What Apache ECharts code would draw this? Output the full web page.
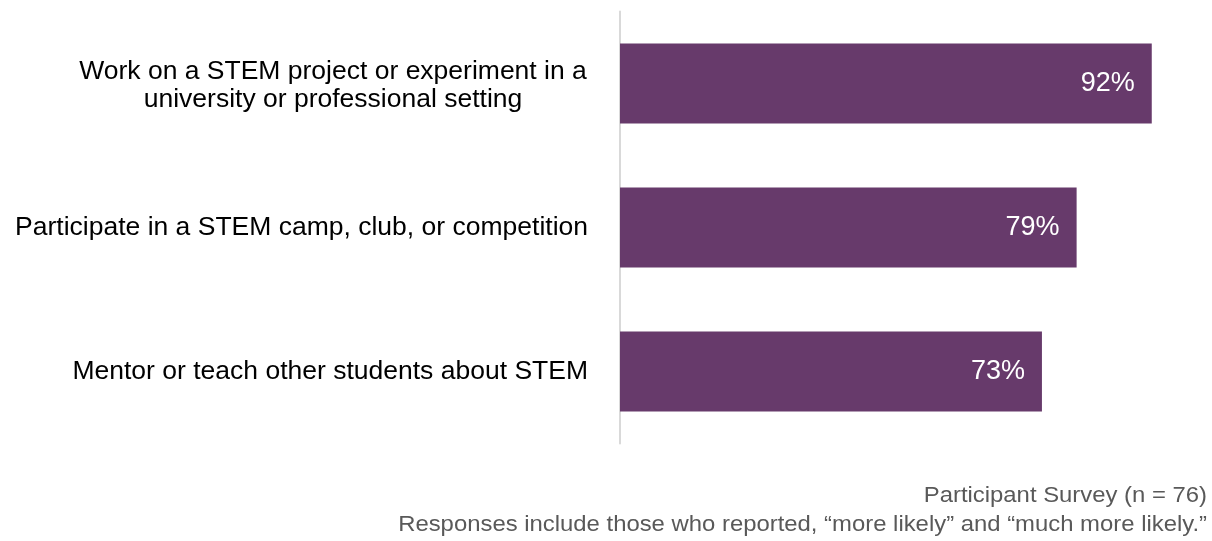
<!DOCTYPE html>
<html>
<head>
<meta charset="utf-8">
<script src="https://cdn.jsdelivr.net/npm/echarts@6/dist/echarts.min.js"></script>
<style>
html,body{margin:0;padding:0;background:#fff;}
#chart{width:1212px;height:541px;}
</style>
</head>
<body>
<div id="chart"></div>
<script>
const categories = [
  "Work on a STEM project or experiment in a\nuniversity or professional setting",
  "Participate in a STEM camp, club, or competition",
  "Mentor or teach other students about STEM"
];
const values = [92, 79, 73];
const footnotes = [
  "Participant Survey (n = 76)",
  "Responses include those who reported, \u201cmore likely\u201d and \u201cmuch more likely.\u201d"
];

const chart = echarts.init(document.getElementById('chart'));
const font = '"Liberation Sans", Arial, sans-serif';
chart.setOption({
  animation: false,
  grid: { left: 620, right: 14, top: 11.5, bottom: 97.5 },
  xAxis: {
    type: 'value', min: 0, max: 100, show: false
  },
  yAxis: {
    type: 'category', data: categories, inverse: true,
    axisLine: { show: true, lineStyle: { color: '#d9d9d9', width: 2 } },
    axisTick: { show: false },
    axisLabel: {
      margin: 32,
      fontFamily: font, fontSize: 26.5, color: '#000', lineHeight: 28,
      formatter: function (v) {
        if (v.indexOf('\n') >= 0) {
          return v.split('\n').map(s => '{c|' + s + '}').join('\n');
        }
        return v;
      },
      rich: {
        c: { width: 510, align: 'center', fontFamily: font, fontSize: 26.5, color: '#000', lineHeight: 28, padding: [5, 0, 0, 0] }
      }
    }
  },
  series: [{
    type: 'bar', data: values, barWidth: 80,
    itemStyle: { color: '#673a6b' },
    label: {
      show: true, position: 'insideRight', distance: 17,
      formatter: '{c}%', color: '#fff', fontFamily: font, fontSize: 27
    }
  }],
  graphic: [{
    type: 'text', x: 1207, y: 481, scaleX: 1.085, originX: 0,
    style: {
      text: footnotes.join('\n'), fill: '#595959', font: '22px ' + font,
      textAlign: 'right', lineHeight: 29.5
    }
  }]
});
</script>
</body>
</html>
